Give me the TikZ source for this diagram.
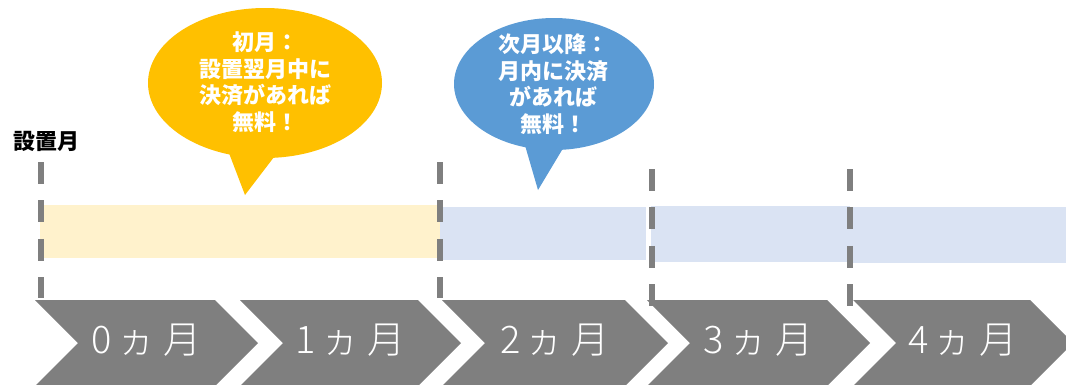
\documentclass[tikz,border=0pt]{standalone}
\usepackage{fontspec}
\newfontfamily\jp{Noto Sans CJK JP}
\IfFontExistsTF{Noto Sans CJK JP Light}
  {\newfontfamily\jplight{Noto Sans CJK JP Light}}
  {\newfontfamily\jplight{Noto Sans CJK JP}}
\definecolor{chevgray}{HTML}{7F7F7F}
\definecolor{bubyellow}{HTML}{FFC000}
\definecolor{bubblue}{HTML}{5B9BD5}
\definecolor{baryellow}{HTML}{FFF2CC}
\definecolor{barblue}{HTML}{DAE3F3}
\newcommand\mlab[1]{#1\hspace{5pt}ヵ\hspace{8pt}月}
\begin{document}
\begin{tikzpicture}[x=1pt,y=-1pt,
  chev/.style={fill=chevgray},
  lab/.style={text=white,font=\jplight\fontsize{38}{40}\selectfont,anchor=base,inner sep=0pt},
  bubtext/.style={text=white,font=\jp\bfseries\fontsize{22}{26.5}\selectfont,align=center,inner sep=0pt},
  bardash/.style={draw=chevgray,line width=6pt,dash pattern=on 21.7pt off 16.7pt},
  ]
\useasboundingbox (0,0) rectangle (1066,384);
% bars
\fill[baryellow] (40,205) rectangle (440,258);
\fill[barblue] (440,207) rectangle (646,260);
\fill[barblue] (651,206) rectangle (850,262);
\fill[barblue] (850,207) rectangle (1066,263);
% chevrons
\foreach \l/\r/\n in {35/215/0, 240/418/1, 442/625/2, 647/827/3, 853/1030/4} {
  \fill[chev] (\l,300) -- (\r,300) -- (\r+43,343) -- (\r,386) -- (\l,386) -- (\l+43,343) -- cycle;
  \node[lab] (m\n) at ({(\l+\r+43)/2},353) {\mlab{\n}};
}
% dashed markers
\coordinate (d1t) at (41,162);  \coordinate (d1b) at (41,298);
\coordinate (d2t) at (440,162); \coordinate (d2b) at (440,298);
\coordinate (d3t) at (652,169); \coordinate (d3b) at (652,307);
\coordinate (d4t) at (850,169); \coordinate (d4b) at (850,307);
\draw[bardash] (d1t) -- (d1b);
\draw[bardash] (d2t) -- (d2b);
\draw[bardash] (d3t) -- (d3b);
\draw[bardash] (d4t) -- (d4b);
% yellow bubble
\fill[bubyellow] (265,83) ellipse [x radius=117, y radius=75];
\fill[bubyellow] (224,140) -- (245,195) -- (287,140) -- cycle;
\node[bubtext] (b1) at (265,82) {初月：\\設置翌月中に\\決済があれば\\無料！};
% blue bubble
\fill[bubblue] (554,84) ellipse [x radius=100, y radius=66];
\fill[bubblue] (522,135) -- (538,190) -- (571,135) -- cycle;
\node[bubtext] (b2) at (553,84) {次月以降：\\月内に決済\\があれば\\無料！};
% start label
\node[font=\jp\bfseries\fontsize{22}{26}\selectfont,text=black,inner sep=0pt] (start) at (46,141) {設置月};
\end{tikzpicture}
\end{document}
